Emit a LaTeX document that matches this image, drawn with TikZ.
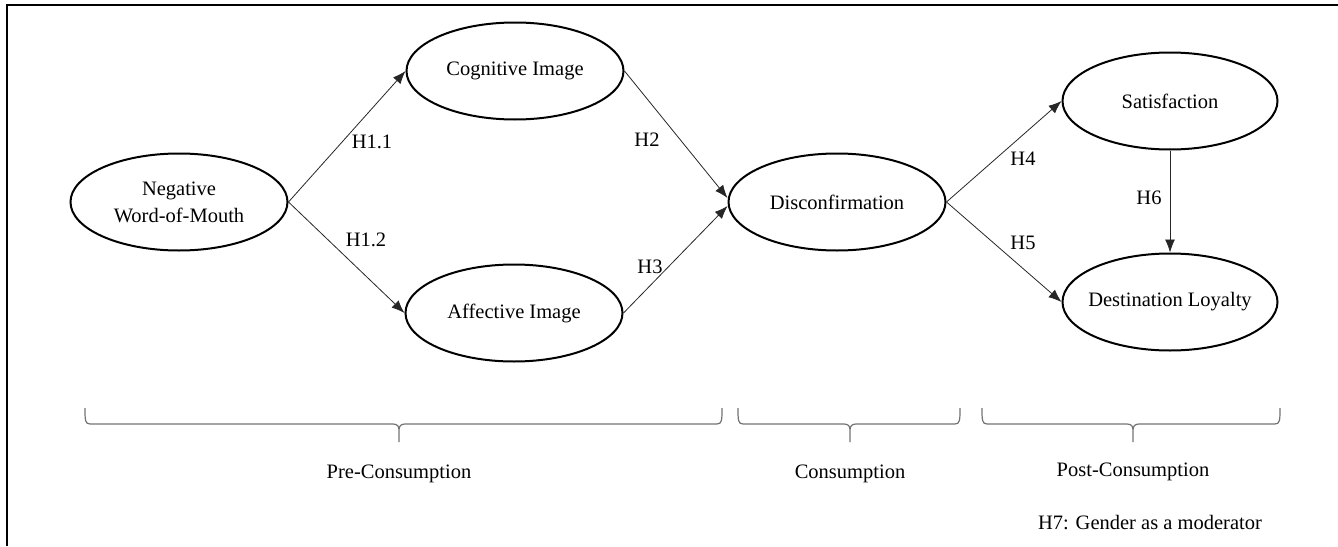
\documentclass[tikz,border=0pt]{standalone}
\usepackage{fontspec}
\setmainfont{Liberation Serif}
\usetikzlibrary{shapes.geometric,arrows.meta}
\newcommand\downbrace[3]{%
  \draw[brc] (#1,408) .. controls (#1,420) and (#1,424) .. ({#1+5},424)
    -- ({#2-6},424) .. controls ({#2-2},424) and (#2,426) .. (#2,430) -- (#2,442)
    (#2,430) .. controls (#2,426) and ({#2+2},424) .. ({#2+6},424)
    -- ({#3-5},424) .. controls (#3,424) and (#3,420) .. (#3,408);}
\begin{document}
\begin{tikzpicture}[x=1pt,y=-1pt,
 every node/.style={font=\fontsize{20.5}{27}\selectfont},
 construct/.style={ellipse, draw, line width=2pt, minimum width=217pt, minimum height=97pt, inner sep=0pt},
 txt/.style={align=center, inner sep=0pt},
 link/.style={-{Latex[length=13pt,width=10pt]}, line width=0.8pt, draw=black!85},
 lab/.style={inner sep=0pt},
 brc/.style={line width=1.2pt, draw=black!55}]
\useasboundingbox (0,0) rectangle (1338,546);
\draw[line width=2pt] (7,546) -- (7,5) -- (1338,5);

\node[construct] (nwom) at (179,202) {};
\node[txt] (nwomt) at (nwom.center) {Negative\\Word-of-Mouth};
\node[construct] (cog) at (515,71) {};
\node[txt] (cogt) at (cog.center) {Cognitive Image};
\node[construct] (aff) at (514,313) {};
\node[txt] (afft) at (aff.center) {Affective Image};
\node[construct] (dis) at (837,202) {};
\node[txt] (dist) at (dis.center) {Disconfirmation};
\node[construct,minimum width=215pt] (sat) at (1170,101) {};
\node[txt] (satt) at (sat.center) {Satisfaction};
\node[construct,minimum width=215pt] (loy) at (1170,302) {};
\node[txt] (loyt) at (loy.center) {Destination Loyalty};

\draw[link] (nwom.east) -- (cog.west);
\draw[link] (nwom.east) -- (aff.west);
\draw[link] (cog.east) -- ([yshift=4pt]dis.west);
\draw[link] (aff.east) -- ([yshift=-4pt]dis.west);
\draw[link] (dis.east) -- (sat.west);
\draw[link] (dis.east) -- (loy.west);
\draw[link] (sat.south) -- (loy.north);

\node[lab] (h11) at (372,142) {H1.1};
\node[lab] (h12) at (366,240) {H1.2};
\node[lab] (h2) at (647,140) {H2};
\node[lab] (h3) at (650,267) {H3};
\node[lab] (h4) at (1023,159) {H4};
\node[lab] (h5) at (1023,243) {H5};
\node[lab] (h6) at (1149,198) {H6};

\downbrace{85}{399}{722}
\downbrace{738}{850}{960}
\downbrace{982}{1133}{1280}

\node (pre) at (399,474) {Pre-Consumption};
\node (con) at (850,474) {Consumption};
\node (post) at (1133,472) {Post-Consumption};
\node (h7) at (1150,523) {H7: Gender as a moderator};
\end{tikzpicture}
\end{document}
